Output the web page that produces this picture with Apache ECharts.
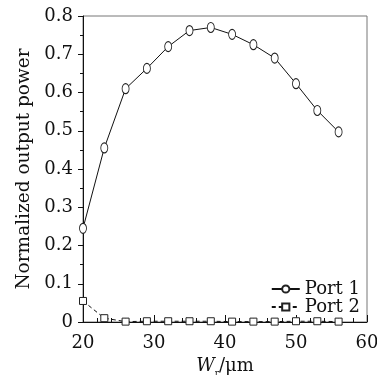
<!DOCTYPE html>
<html>
<head>
<meta charset="utf-8">
<script src="https://cdn.jsdelivr.net/npm/echarts@6/dist/echarts.min.js"></script>
<style>
    html, body { margin: 0; padding: 0; background: #fff; }
    #chart { width: 377px; height: 375px; }
</style>
</head>
<body>
<div id="chart"></div>
<script>
    // W_r values (um)
    var widths = [20, 23, 26, 29, 32, 35, 38, 41, 44, 47, 50, 53, 56];
    var port1 = [0.245, 0.455, 0.61, 0.663, 0.72, 0.762, 0.77, 0.752, 0.725, 0.69, 0.623, 0.553, 0.497];
    var port2 = [0.055, 0.01, 0.001, 0.002, 0.002, 0.002, 0.002, 0.001, 0.001, 0.001, 0.002, 0.002, 0.001];
    var seriesNames = ['Port 1', 'Port 2'];

    var font = 'DejaVu Serif';

    function pairs(ys) {
        return widths.map(function (x, i) { return [x, ys[i]]; });
    }

    var chart = echarts.init(document.getElementById('chart'));
    chart.setOption({
        backgroundColor: '#fff',
        animation: false,
        textStyle: { fontFamily: font, color: '#111' },
        grid: {
            left: 83, right: 10, top: 16, bottom: 53,
            outerBoundsMode: 'none',
            containLabel: false,
            show: true, borderColor: '#777', borderWidth: 1, backgroundColor: 'transparent'
        },
        legend: {
            right: 12,
            top: 275,
            orient: 'vertical',
            itemGap: 0,
            itemWidth: 28,
            itemHeight: 9,
            textStyle: { fontFamily: font, fontSize: 18, color: '#111' },
            data: seriesNames
        },
        xAxis: {
            type: 'value',
            min: 20,
            max: 60,
            interval: 10,
            name: '{w|W}{s|r}{u|/μm}',
            nameLocation: 'middle',
            nameGap: 33,
            nameTextStyle: {
                rich: {
                    w: { fontFamily: font, fontStyle: 'italic', fontSize: 18, color: '#111' },
                    s: { fontFamily: font, fontSize: 9, color: '#111', verticalAlign: 'bottom', padding: [14, 0, 0, 0] },
                    u: { fontFamily: font, fontSize: 18, color: '#111' }
                }
            },
            axisLine: { lineStyle: { color: '#111', width: 1 } },
            axisTick: { inside: true, length: 7, lineStyle: { color: '#111' } },
            minorTick: { show: true, splitNumber: 5, length: 4, lineStyle: { color: '#111' } },
            axisLabel: { fontFamily: font, fontSize: 18, color: '#111', margin: 12 },
            splitLine: { show: false }
        },
        yAxis: {
            type: 'value',
            min: 0,
            max: 0.8,
            interval: 0.1,
            name: 'Normalized output power',
            nameLocation: 'middle',
            nameGap: 48,
            nameTextStyle: { fontFamily: font, fontSize: 18.5, color: '#111' },
            axisLine: { show: true, lineStyle: { color: '#111', width: 1 } },
            axisTick: { show: true, length: 5, lineStyle: { color: '#111' } },
            minorTick: { show: true, splitNumber: 2, length: 3, lineStyle: { color: '#111' } },
            axisLabel: {
                fontFamily: font, fontSize: 18, color: '#111', margin: 10,
                formatter: function (v) { return v === 0 ? '0' : v.toFixed(1); }
            },
            splitLine: { show: false }
        },
        series: [{
            name: seriesNames[0],
            type: 'line',
            data: pairs(port1),
            symbol: 'circle',
            symbolSize: [7, 10],
            lineStyle: { color: '#111', width: 1 },
            itemStyle: { color: '#fff', borderColor: '#222', borderWidth: 1 }
        }, {
            name: seriesNames[1],
            type: 'line',
            data: pairs(port2),
            symbol: 'rect',
            symbolSize: 7,
            lineStyle: { color: '#111', width: 1, type: [4, 3] },
            itemStyle: { color: '#fff', borderColor: '#222', borderWidth: 1 }
        }]
    });
</script>
</body>
</html>
